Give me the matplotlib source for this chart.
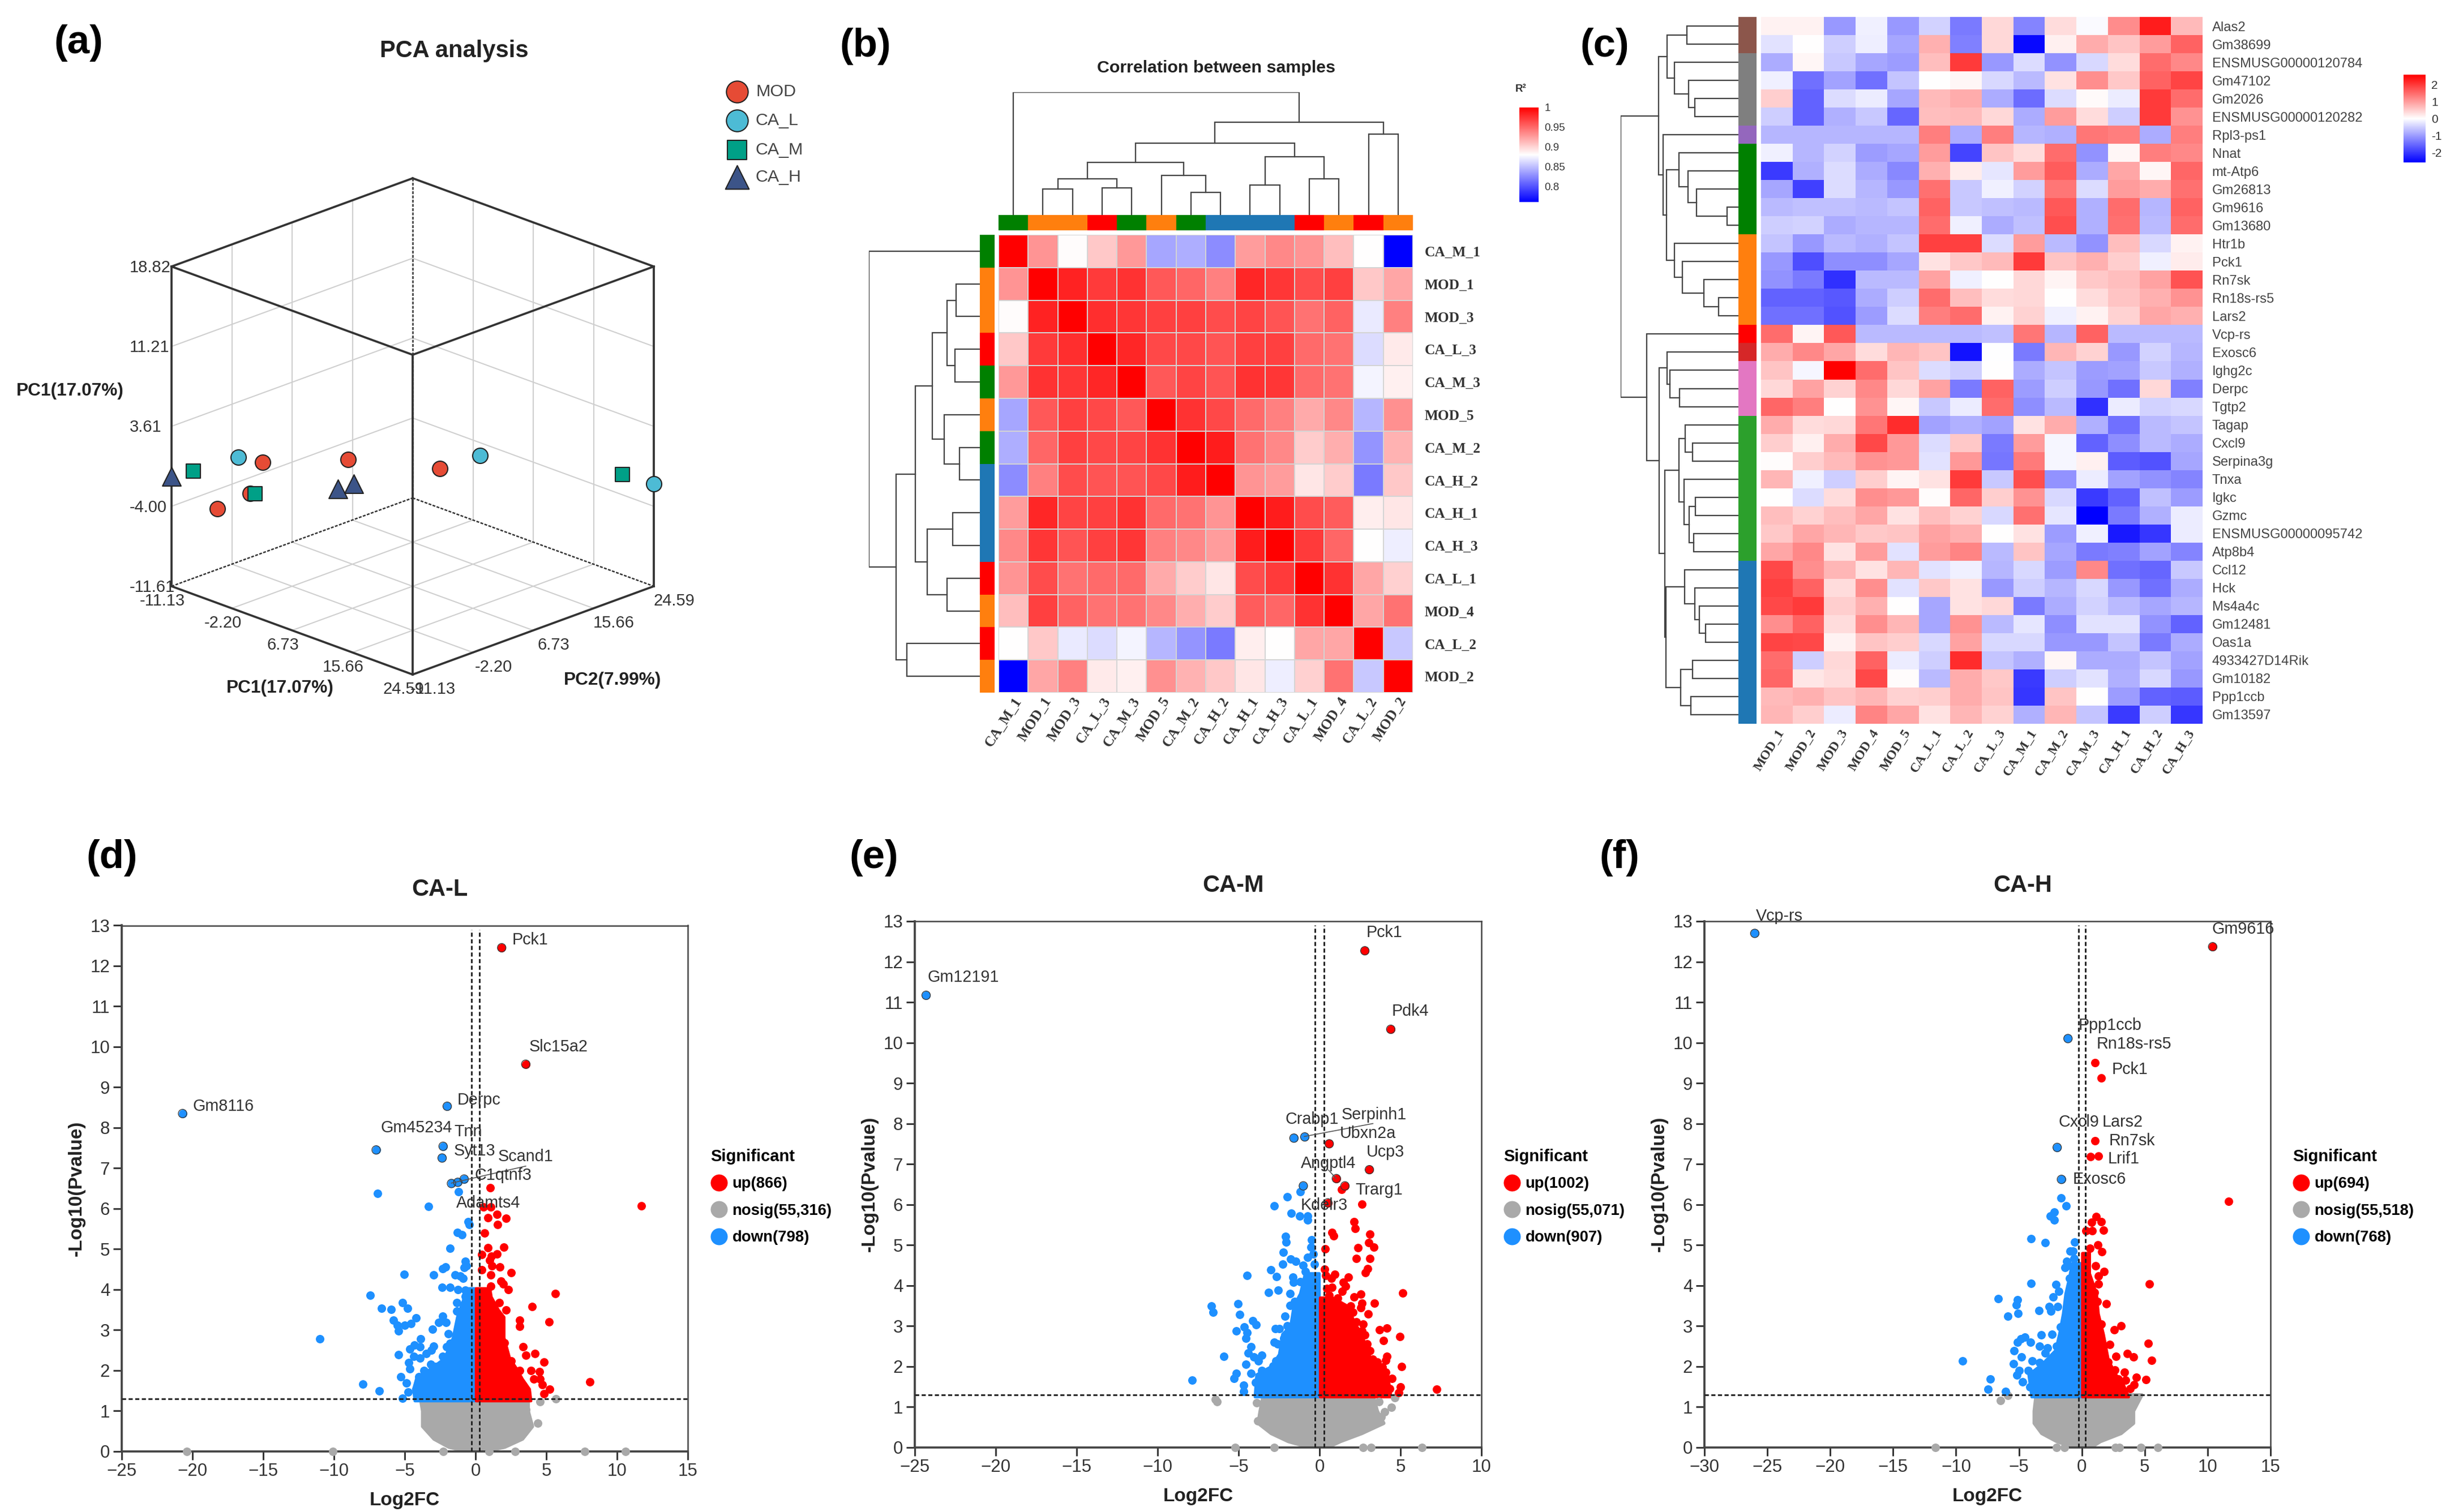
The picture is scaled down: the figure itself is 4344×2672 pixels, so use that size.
import numpy as np
import matplotlib
matplotlib.use('Agg')
import matplotlib.pyplot as plt
from matplotlib.colors import LinearSegmentedColormap, Normalize
from matplotlib.cm import ScalarMappable
from matplotlib.lines import Line2D

plt.rcParams['font.family'] = ['Liberation Sans', 'DejaVu Sans']

W, H = 4344, 2672
DARK = '#333333'
SERIF = 'Liberation Serif'

# ---------- panel a: PCA
pca_ticks = [-11.13, -2.20, 6.73, 15.66, 24.59]
pc3_ticks = [-11.61, -4.00, 3.61, 11.21, 18.82]
pca_groups = ['MOD', 'CA_L', 'CA_M', 'CA_H']
pca_colors = ['#e64b35', '#4dbbd5', '#00a087', '#3c5488']
pca_markers = ['o', 'o', 's', '^']
mod_pc1 = [-8.70, -2.99, 5.66, -5.31, -3.38]
mod_pc2 = [-0.02, 6.87, 11.84, -10.13, -7.24]
mod_pc3 = [-1.87, -1.87, -1.87, -3.09, -1.87]
cal_pc1 = [-10.34, 6.02, 24.59]
cal_pc2 = [-2.06, 17.45, 24.59]
cal_pc3 = [-1.26, -1.87, -1.87]
cam_pc1 = [-10.88, -3.02, 20.30]
cam_pc2 = [-8.17, -6.88, 24.16]
cam_pc3 = [-1.26, -1.87, -1.87]
cah_pc1 = [-11.13, 2.16, 2.37]
cah_pc2 = [-11.13, 0.23, 2.37]
cah_pc3 = [-1.17, -1.87, -1.87]

# ---------- panel b: correlation heatmap (upper triangle, row by row)
corr_samples = ['CA_M_1', 'MOD_1', 'MOD_3', 'CA_L_3', 'CA_M_3', 'MOD_5', 'CA_M_2',
                'CA_H_2', 'CA_H_1', 'CA_H_3', 'CA_L_1', 'MOD_4', 'CA_L_2', 'MOD_2']
corr_upper = [
    [1.00, .930, .881, .906, .928, .838, .842, .826, .926, .936, .930, .910, .880, .760],
    [1.00, .984, .972, .976, .958, .952, .940, .982, .974, .964, .970, .906, .922],
    [1.00, .978, .974, .970, .970, .964, .968, .960, .946, .954, .870, .940],
    [1.00, .982, .966, .966, .960, .970, .970, .950, .946, .864, .890],
    [1.00, .958, .968, .960, .976, .974, .950, .946, .875, .887],
    [1.00, .976, .966, .950, .940, .920, .936, .846, .932],
    [1.00, .986, .946, .936, .904, .918, .830, .916],
    [1.00, .930, .926, .892, .904, .818, .906],
    [1.00, .986, .964, .956, .888, .892],
    [1.00, .972, .952, .880, .872],
    [1.00, .976, .922, .902],
    [1.00, .922, .946],
    [1.00, .854],
    [1.00],
]
corr_tree = (1.0, 0, (.757, (.584, (.428, (.296, (.214, 1, 2), (.222, 3, 4)),
                                    (.321, 5, (.185, 6, 7))),
                             (.473, (.243, 8, 9), (.296, 10, 11))),
                      (.658, 12, 13)))
group_colors = {'MOD': '#ff7f0e', 'CA_L': '#ff0000', 'CA_M': '#008000', 'CA_H': '#1f77b4'}

# ---------- panel c: gene heatmap
gene_names = ['Alas2', 'Gm38699', 'ENSMUSG00000120784', 'Gm47102', 'Gm2026', 'ENSMUSG00000120282',
              'Rpl3-ps1', 'Nnat', 'mt-Atp6', 'Gm26813', 'Gm9616', 'Gm13680', 'Htr1b', 'Pck1', 'Rn7sk',
              'Rn18s-rs5', 'Lars2', 'Vcp-rs', 'Exosc6', 'Ighg2c', 'Derpc', 'Tgtp2', 'Tagap', 'Cxcl9',
              'Serpina3g', 'Tnxa', 'Igkc', 'Gzmc', 'ENSMUSG00000095742', 'Atp8b4', 'Ccl12', 'Hck',
              'Ms4a4c', 'Gm12481', 'Oas1a', '4933427D14Rik', 'Gm10182', 'Ppp1ccb', 'Gm13597']
gene_samples = ['MOD_1', 'MOD_2', 'MOD_3', 'MOD_4', 'MOD_5', 'CA_L_1', 'CA_L_2', 'CA_L_3',
                'CA_M_1', 'CA_M_2', 'CA_M_3', 'CA_H_1', 'CA_H_2', 'CA_H_3']
gene_z = [
    [.13, .13, -1.04, -.15, -1.05, -.45, -1.35, .4, -1.25, .35, -.05, 1.17, 2.3, .7],
    [-.3, 0, -.5, -.17, -.9, .8, -1.3, .4, -2.5, .15, .85, .6, 1.0, 1.6],
    [-.85, .1, -.55, -.9, -1.0, .65, 2.0, -1.05, -.35, -1.1, -.4, .35, 1.5, 1.2],
    [-.15, -1.45, -.95, -1.45, -.6, 0, .1, -.4, -.7, .3, 1.15, .55, 1.6, 1.9],
    [.5, -1.6, -.35, -.2, -.9, .7, .85, -.85, -1.5, -.35, .05, -.2, 2.0, 1.5],
    [-.5, -1.6, -.8, -.55, -1.55, .65, .7, .4, -.85, 1.0, .35, -.5, 2.0, 1.1],
    [-.75, -.75, -.75, -.75, -.75, 1.3, -.85, 1.3, -.75, -.8, 1.4, 1.3, -.85, 1.3],
    [-.15, -.75, -.45, -1.0, -.9, 1.0, -1.9, .6, .35, 1.5, -1.1, .1, 1.3, 1.2],
    [-2.0, -.8, -.35, -.85, -1.2, .8, .2, -.25, 1.0, 1.65, -.85, .9, .1, 1.55],
    [-.9, -1.95, -.35, -.75, -1.05, 1.45, -.55, -.15, -.45, 1.4, -.35, 1.0, .85, 1.45],
    [-.7, -.65, -.65, -.7, -.6, 1.6, -.55, -.65, -.7, 1.7, -.8, 1.5, -.75, 1.6],
    [-.5, -.45, -.85, -.75, -.75, 1.5, -.15, -.85, -.65, 1.8, -.8, 1.45, -.7, 1.5],
    [-.6, -1.05, -.7, -.8, -.6, 1.95, 1.95, -.35, 1.0, -.7, -1.1, .65, -.4, .13],
    [-1.05, -1.8, -1.15, -1.15, -.9, .3, .55, .7, 2.0, .6, .8, .5, -.15, .2],
    [-1.1, -1.35, -2.1, -.7, -.7, .95, -.15, 0, .4, .12, .55, .65, .95, 1.75],
    [-1.6, -1.6, -1.7, -.85, -.5, 1.5, .65, .35, .4, 0, .35, .6, .8, 1.1],
    [-1.45, -1.45, -1.75, -1.0, -.35, 1.3, 1.5, .13, .45, -.15, .13, .45, .9, .8],
    [1.5, .12, 1.7, -.7, -.7, -.7, -.7, -.65, 1.4, -.75, 1.6, -.7, -.7, -.7],
    [.85, 1.2, .9, .35, .75, .6, -2.4, -.02, -1.35, .75, .45, -1.05, -.45, -.75],
    [.6, -.1, 2.6, 1.5, .6, -.35, -.5, 0, -.85, -.6, -1.0, -.95, -.55, -.8],
    [.4, .95, .45, 1.2, .4, .95, -1.35, 1.6, -1.0, -.5, -1.05, -1.45, .4, -1.3],
    [1.55, 1.3, 0, 1.1, .1, -.55, -.2, 1.5, -1.15, -.7, -2.1, -.2, -.45, -.4],
    [.85, .35, .4, 1.4, 2.15, -.95, -.8, -.95, .3, .85, -.8, -1.45, -.7, -.6],
    [.5, .15, .85, 1.85, 1.05, -.35, .55, -1.35, 1.0, -.1, -1.6, -1.15, -.7, -.85],
    [.03, .5, .7, 1.1, 1.05, -.3, 1.05, -1.4, 1.35, -.1, .15, -1.65, -1.75, -.9],
    [.75, -.15, -.5, .5, .12, .3, 2.0, -.55, 1.8, -1.1, -.2, -.95, -1.1, -1.25],
    [0, -.35, .35, 1.15, 1.05, .03, 1.55, .5, 1.1, -.4, -2.0, -1.6, -.65, -1.0],
    [.65, .45, .65, .9, .3, .65, .45, -.4, 1.45, -.25, -2.6, -1.35, -.8, -.2],
    [.55, .9, .75, .55, .6, .95, .8, 0, .3, -1.0, -.15, -2.35, -2.05, -.2],
    [.9, 1.2, .3, 1.0, -.3, 1.0, 1.25, -.7, .6, -.9, -1.35, -1.3, -.95, -1.25],
    [1.85, 1.15, .75, .3, .75, -.3, -.15, -.75, -.4, -1.0, 1.2, -1.45, -1.55, -.55],
    [1.95, 1.6, .35, 1.15, -.3, .55, .3, -1.05, -.5, -.75, -.4, -1.05, -1.45, -.85],
    [1.85, 2.0, .5, .8, 0, -.9, .3, .4, -1.35, -.85, -.45, -.7, -.9, -.75],
    [1.15, 1.6, .35, 1.15, .75, -.9, 1.1, -.7, -.25, -1.15, -.3, -.3, -1.1, -1.6],
    [1.9, 1.85, .13, .6, .5, -.4, .95, -.4, -.4, -1.05, -1.05, -.6, -1.35, -.85],
    [1.5, -.5, .4, 1.6, -.2, -.5, 2.15, -.6, -.8, .1, -.85, -.85, -.6, -.95],
    [1.55, .25, .35, 1.85, .03, -.7, .85, .55, -2.0, -.5, -.3, -.8, -.4, -1.05],
    [.7, .8, .6, .75, .45, .5, .85, .6, -2.05, .6, 0, -1.0, -1.6, -1.65],
    [.75, .5, -.2, 1.25, .9, .3, .75, .45, -.8, .75, -.6, -2.0, -.5, -2.05],
]
gene_groups = ['#8c564b'] * 2 + ['#7f7f7f'] * 4 + ['#9467bd'] + ['#008000'] * 5 + ['#ff7f0e'] * 5 \
    + ['#ff0000'] + ['#d62728'] + ['#e377c2'] * 3 + ['#2ca02c'] * 8 + ['#1f77b4'] * 9
gene_tree = (1.0,
             (.678,
              (.607, (.436, 0, 1), (.545, 2, (.422, 3, (.37, 4, 5)))),
              (.64, 6, (.611,
                        (.507, 7, (.427, 8, (.355, 9, (.095, 10, 11)))),
                        (.545, 12, (.474, 13, (.294, 14, (.166, 15, 16))))))),
             (.777, 17, (.673,
                         (.607, 18, (.583, 19, (.498, 20, 21))),
                         (.626,
                          (.507, (.45, 22, (.389, 23, 24)),
                           (.46, 25, (.417, (.365, 26, 27), (.38, 28, 29)))),
                          (.616,
                           (.455, 30, (.37, 31, (.332, 32, (.28, 33, 34)))),
                           (.488, (.389, 35, 36), (.403, 37, 38)))))))

# ---------- panels d-f: volcanoes
d_down = [(-20.7, 8.35), (-2.0, 8.53), (-7.02, 7.45), (-2.29, 7.54), (-2.36, 7.25), (-1.70, 6.62), (-1.25, 6.65),
          (-.80, 6.73), (-6.93, 6.37), (-1.20, 6.41), (-3.34, 6.05), (-.54, 5.67), (-.45, 5.61), (-1.30, 5.41),
          (-.98, 5.35), (-1.82, 5.02), (-.71, 4.70), (-.63, 4.59), (-.80, 4.54), (-2.32, 4.51), (-2.14, 4.56),
          (-5.04, 4.38), (-2.98, 4.36), (-1.43, 4.36), (-.89, 4.28), (-1.07, 4.33), (-2.36, 4.05), (-1.79, 4.05),
          (-1.25, 4.00), (-.71, 3.98), (-7.46, 3.86), (-5.18, 3.67), (-4.82, 3.54), (-6.66, 3.54), (-5.95, 3.50),
          (-1.34, 3.68), (-.71, 3.83), (-1.34, 3.47), (-4.20, 3.30), (-5.80, 3.24), (-5.54, 3.11), (-5.45, 2.97),
          (-5.00, 3.12), (-4.55, 3.15), (-2.32, 3.34), (-2.59, 3.19), (-2.09, 3.19), (-3.04, 3.01), (-1.93, 2.90),
          (-11.02, 2.78), (-3.88, 2.78), (-4.34, 2.63), (-4.64, 2.53), (-3.93, 2.58), (-2.95, 2.60), (-3.13, 2.50),
          (-3.48, 2.41), (-1.79, 2.66), (-2.05, 2.58), (-5.45, 2.39), (-4.38, 2.35), (-3.93, 2.31), (-2.32, 2.35),
          (-4.73, 2.19), (-4.64, 2.04), (-3.16, 2.15), (-2.86, 2.10), (-3.66, 1.99), (-5.27, 1.84), (-4.88, 1.69),
          (-7.95, 1.66), (-6.79, 1.49), (-4.77, 1.46), (-5.18, 1.31), (-4.02, 1.84), (-4.20, 1.54)]
d_up = [(1.85, 12.45), (3.55, 9.57), (11.7, 6.07), (1.04, 6.51), (.54, 6.04), (1.07, 6.04), (1.52, 5.86), (.89, 5.78),
        (2.14, 5.76), (1.55, 5.60), (.62, 5.40), (.89, 5.03), (2.0, 5.04), (1.52, 4.88), (.45, 4.87), (1.12, 4.82),
        (.98, 4.72), (1.70, 4.56), (1.16, 4.59), (.45, 4.48), (2.5, 4.41), (1.07, 4.36), (1.79, 4.21), (1.96, 4.14),
        (2.32, 3.99), (5.62, 3.90), (1.07, 4.08), (1.66, 3.68), (3.98, 3.57), (2.14, 3.49), (3.13, 3.24), (5.18, 3.20),
        (3.13, 3.09), (1.79, 3.01), (1.70, 2.82), (2.05, 2.68), (3.36, 2.58), (1.88, 2.50), (4.20, 2.41), (3.57, 2.38),
        (2.5, 2.23), (4.82, 2.21), (3.93, 1.99), (3.13, 1.99), (4.5, 1.97), (4.55, 1.79), (4.11, 1.79), (8.07, 1.71),
        (4.73, 1.64), (5.23, 1.54), (4.82, 1.42), (3.48, 1.43), (2.5, 1.99)]
d_nosig = [(4.55, 1.22), (5.66, 1.29), (4.41, .70), (3.57, 1.03), (-20.4, 0), (-10.1, 0), (-2.3, 0), (.95, 0), (2.8, 0),
           (7.7, 0), (10.6, 0)]
d_marked = [(1.85, 12.45), (3.55, 9.57), (-20.7, 8.35), (-2.0, 8.53), (-7.02, 7.45), (-2.29, 7.54), (-2.36, 7.25),
            (-1.70, 6.62), (-1.25, 6.65), (-.80, 6.73)]
# extent of the solid clouds at several heights
d_gray_y = [0, .11, .31, .62, 1.0, 1.3]
d_gray_l = [-.6, -1.9, -2.95, -3.75, -3.75, -3.9]
d_gray_r = [.6, 2.05, 3.3, 4.0, 3.7, 3.7]
d_blue_y = [1.25, 1.54, 1.79, 2.04, 2.30, 2.81, 3.32, 3.82, 4.03]
d_blue_l = [-4.3, -4.4, -4.2, -3.2, -2.2, -1.6, -1.3, -.8, -.5]
d_red_y = [1.25, 1.54, 1.79, 2.04, 2.30, 2.81, 3.32, 3.50, 3.82, 4.03]
d_red_r = [3.9, 3.8, 3.3, 2.9, 2.4, 2.0, 2.0, 1.6, 1.1, 1.0]
d_labels = ['Pck1', 'Slc15a2', 'Gm8116', 'Derpc', 'Gm45234', 'Tnn', 'Syt13', 'Scand1', 'C1qtnf3', 'Adamts4']
d_label_x = [2.6, 3.8, -20.0, -1.3, -6.7, -1.5, -1.55, 1.6, -.07, -1.37]
d_label_y = [12.65, 10.0, 8.53, 8.68, 8.0, 7.9, 7.42, 7.28, 6.82, 6.14]

e_down = [(-24.3, 11.17), (-1.58, 7.64), (-.91, 7.67), (-1.0, 6.46), (-1.20, 6.31), (-2.01, 6.19), (-2.81, 5.97),
          (-1.74, 5.79), (-1.23, 5.71), (-.74, 5.72), (-.74, 5.61), (-2.10, 5.21), (-2.05, 5.07), (-.50, 5.12),
          (-.54, 4.95), (-2.24, 4.82), (-.40, 4.78), (-1.77, 4.65), (-1.47, 4.60), (-.74, 4.70), (-2.28, 4.53),
          (-.31, 4.53), (-2.99, 4.39), (-1.0, 4.50), (-.87, 4.35), (-4.46, 4.24), (-2.65, 4.22), (-1.63, 4.20),
          (-1.61, 4.08), (-1.20, 4.09), (-.47, 4.11), (-.87, 4.10), (-3.15, 3.83), (-2.54, 3.88), (-1.81, 3.80),
          (-.80, 3.85), (-6.67, 3.49), (-6.56, 3.34), (-5.02, 3.54), (-4.93, 3.28), (-2.14, 3.24), (-1.81, 3.50),
          (-1.54, 3.60), (-4.11, 3.13), (-3.91, 3.03), (-4.65, 2.97), (-5.13, 2.88), (-4.48, 2.83), (-4.55, 2.69),
          (-2.74, 2.93), (-2.48, 2.93), (-1.98, 3.0), (-2.21, 2.70), (-2.78, 2.60), (-2.57, 2.55), (-4.24, 2.49),
          (-4.39, 2.33), (-5.92, 2.24), (-3.55, 2.28), (-4.06, 2.23), (-3.79, 2.13), (-4.55, 2.05), (-2.68, 2.13),
          (-2.85, 2.01), (-4.22, 1.83), (-5.15, 1.82), (-5.29, 1.70), (-7.86, 1.66), (-4.69, 1.53), (-4.69, 1.38),
          (-3.55, 1.90), (-3.95, 1.60)]
e_up = [(2.8, 12.27), (4.4, 10.33), (.60, 7.50), (3.08, 6.86), (1.04, 6.64), (1.57, 6.46), (1.38, 6.37), (.51, 6.04),
        (2.61, 6.01), (2.12, 5.57), (2.21, 5.40), (.78, 5.31), (.87, 5.22), (3.11, 5.27), (3.05, 5.06), (3.35, 4.95),
        (2.37, 4.93), (.36, 4.90), (2.28, 4.66), (3.12, 4.66), (2.97, 4.41), (2.84, 4.32), (.31, 4.40), (.40, 4.25),
        (.94, 4.28), (1.78, 4.21), (.74, 4.18), (1.47, 4.08), (1.61, 3.98), (.78, 3.95), (.47, 3.93), (5.15, 3.81),
        (1.41, 3.85), (2.54, 3.79), (2.14, 3.71), (.60, 3.75), (1.11, 3.68), (3.39, 3.56), (2.61, 3.56), (2.54, 3.45),
        (1.91, 3.49), (3.01, 3.30), (2.07, 3.33), (2.68, 3.05), (2.28, 3.10), (4.15, 2.94), (3.71, 2.90), (2.61, 2.88),
        (4.98, 2.74), (2.81, 2.78), (3.95, 2.64), (2.95, 2.55), (3.12, 2.38), (4.15, 2.25), (4.08, 2.15), (3.28, 2.18),
        (3.57, 2.10), (5.06, 1.99), (3.88, 1.98), (4.08, 1.85), (4.46, 1.70), (7.23, 1.44), (4.99, 1.49), (4.89, 1.35),
        (4.35, 1.45)]
e_nosig = [(-6.45, 1.18), (-6.33, 1.13), (-3.88, 1.10), (3.68, 1.13), (4.66, 1.23), (4.44, .99), (4.02, .88), (3.82, .75),
           (-3.82, .65), (-5.22, 0), (-2.81, 0), (2.68, 0), (3.17, 0), (6.33, 0)]
e_marked = [(2.8, 12.27), (4.4, 10.33), (-24.3, 11.17), (-1.58, 7.64), (-.91, 7.67), (.60, 7.50), (3.08, 6.86),
            (1.04, 6.64), (1.57, 6.46), (-1.0, 6.46), (.51, 6.04)]
e_gray_y = [0, .15, .35, .6, .9, 1.3]
e_gray_l = [-.6, -1.94, -3.0, -3.8, -3.68, -3.48]
e_gray_r = [.47, 1.27, 2.6, 3.95, 3.55, 3.28]
e_blue_y = [1.25, 1.8, 2.0, 2.3, 2.8, 3.0, 3.5, 3.8, 4.3]
e_blue_l = [-4.0, -3.9, -3.0, -2.5, -2.3, -1.8, -1.6, -1.2, -.9]
e_red_y = [1.25, 1.8, 2.0, 2.3, 2.8, 3.05, 3.5, 3.7]
e_red_r = [4.4, 4.2, 3.6, 3.0, 2.6, 2.2, 1.7, .8]
e_labels = ['Pck1', 'Pdk4', 'Gm12191', 'Crabp1', 'Serpinh1', 'Ubxn2a', 'Ucp3', 'Angptl4', 'Trarg1', 'Kdelr3']
e_label_x = [2.9, 4.47, -24.2, -2.1, 1.35, 1.25, 2.9, -1.15, 2.2, -1.15]
e_label_y = [12.72, 10.77, 11.62, 8.1, 8.22, 7.75, 7.3, 7.02, 6.36, 5.98]

f_down = [(-26.0, 12.7), (-1.1, 10.1), (-1.96, 7.41), (-1.62, 6.62), (-1.66, 6.16), (-1.24, 5.97), (-2.17, 5.81),
          (-2.52, 5.72), (-2.17, 5.61), (-4.03, 5.16), (-2.92, 5.05), (-.57, 5.07), (-.94, 4.85), (-.72, 4.85),
          (-.61, 4.66), (-1.2, 4.60), (-1.35, 4.44), (-.79, 4.47), (-4.03, 4.05), (-2.07, 4.02), (-.97, 4.18),
          (-1.85, 3.85), (-2.29, 3.71), (-6.64, 3.67), (-5.11, 3.64), (-5.22, 3.52), (-3.42, 3.38), (-2.59, 3.48),
          (-2.47, 3.36), (-1.92, 3.48), (-5.07, 3.31), (-5.86, 3.24), (-1.69, 2.98), (-3.22, 2.78), (-2.37, 2.79),
          (-4.54, 2.72), (-4.84, 2.68), (-5.11, 2.59), (-4.09, 2.59), (-3.34, 2.50), (-2.74, 2.45), (-5.37, 2.39),
          (-2.89, 2.33), (-1.99, 2.50), (-4.78, 2.23), (-9.46, 2.13), (-5.41, 2.06), (-3.94, 2.14), (-3.34, 2.09),
          (-4.99, 1.90), (-5.14, 1.78), (-4.72, 1.61), (-7.29, 1.69), (-7.44, 1.44), (-6.05, 1.38), (-4.12, 1.49),
          (-4.24, 1.90)]
f_up = [(10.4, 12.37), (1.05, 9.5), (1.55, 9.13), (11.65, 6.08), (1.03, 7.58), (.67, 7.18), (1.33, 7.2), (1.15, 5.70),
        (.78, 5.56), (1.53, 5.57), (.33, 5.35), (.82, 5.35), (1.71, 5.37), (1.26, 5.0), (1.60, 4.83), (.63, 4.91),
        (1.08, 4.48), (1.75, 4.34), (1.33, 4.23), (5.38, 4.04), (1.30, 4.03), (1.0, 3.82), (1.93, 3.54), (1.23, 3.60),
        (3.10, 3.0), (2.58, 2.91), (1.53, 3.05), (5.28, 2.57), (2.2, 2.54), (3.60, 2.32), (2.73, 2.25), (4.12, 2.23),
        (5.53, 2.15), (2.08, 2.11), (2.61, 1.91), (3.40, 1.85), (4.33, 1.73), (5.10, 1.67), (3.48, 1.66), (4.15, 1.55),
        (3.85, 1.45), (2.88, 1.68)]
f_nosig = [(-6.45, 1.16), (-5.9, 1.28), (4.3, 1.2), (-11.64, 0), (-2.0, 0), (-1.4, 0), (2.65, 0), (3.0, 0), (4.68, 0),
           (6.03, 0)]
f_marked = [(-26.0, 12.7), (10.4, 12.37), (-1.1, 10.1), (-1.96, 7.41), (-1.62, 6.62)]
f_gray_y = [0, .15, .35, .6, .9, 1.3]
f_gray_l = [-.65, -2.0, -3.2, -3.8, -3.8, -3.65]
f_gray_r = [.7, 1.45, 3.1, 4.08, 4.08, 4.75]
f_blue_y = [1.25, 1.8, 2.05, 2.4, 2.8, 3.3, 3.8, 4.2, 4.55]
f_blue_l = [-4.0, -4.24, -3.2, -2.1, -1.8, -1.5, -1.3, -1.0, -.8]
f_red_y = [1.25, 1.55, 1.8, 2.15, 2.8, 3.3, 3.8, 4.3, 4.8]
f_red_r = [3.7, 3.3, 2.7, 2.1, 1.7, 1.3, 1.15, .6, .6]
f_labels = ['Vcp-rs', 'Gm9616', 'Ppp1ccb', 'Rn18s-rs5', 'Pck1', 'Cxcl9', 'Lars2', 'Rn7sk', 'Lrif1', 'Exosc6']
f_label_x = [-25.9, 10.36, -.27, 1.15, 2.4, -1.86, 1.6, 2.17, 2.08, -.71]
f_label_y = [13.13, 12.8, 10.43, 9.96, 9.33, 8.04, 8.04, 7.58, 7.13, 6.63]

fig = plt.figure(figsize=(W / 300, H / 300), dpi=300, facecolor='white')


def px_axes(left, top, right, bottom):
    return fig.add_axes([left / W, 1 - bottom / H, (right - left) / W, (bottom - top) / H])


canvas = fig.add_axes([0, 0, 1, 1])
canvas.set_xlim(0, W)
canvas.set_ylim(H, 0)
canvas.axis('off')

# panel letters and titles
for letter, lx, ly in zip(['(a)', '(b)', '(c)', '(d)', '(e)', '(f)'],
                          [139, 1529, 2835, 198, 1544, 2861], [76, 82, 82, 1516, 1516, 1516]):
    canvas.text(lx, ly, letter, fontsize=17, fontweight='bold', ha='center', va='center')
canvas.text(802, 90, 'PCA analysis', fontsize=10, fontweight='bold', ha='center', va='center', color='#222222')
canvas.text(2148, 120, 'Correlation between samples', fontsize=7.3, fontweight='bold', ha='center', va='center',
            color='#222222')


# ---------- a
def project(p1, p2, p3):
    a = (np.asarray(p1, float) - pca_ticks[0]) / (pca_ticks[-1] - pca_ticks[0])
    b = (np.asarray(p2, float) - pca_ticks[0]) / (pca_ticks[-1] - pca_ticks[0])
    c = (np.asarray(p3, float) - pc3_ticks[0]) / (pc3_ticks[-1] - pc3_ticks[0])
    return 303 + 426 * (a + b), 1036 + 156 * (a - b) - 565 * c


def cube_line(p, q, **kw):
    x0, y0 = project(*p)
    x1, y1 = project(*q)
    canvas.plot([x0, x1], [y0, y1], **kw)


lo, hi = pca_ticks[0], pca_ticks[-1]
zlo, zhi = pc3_ticks[0], pc3_ticks[-1]
grid_kw = dict(color='#cfcfcf', lw=0.5, zorder=1)
for t in pca_ticks[1:-1]:
    cube_line((lo, t, zlo), (lo, t, zhi), **grid_kw)
    cube_line((t, hi, zlo), (t, hi, zhi), **grid_kw)
    cube_line((lo, t, zlo), (hi, t, zlo), **grid_kw)
    cube_line((t, lo, zlo), (t, hi, zlo), **grid_kw)
for t in pc3_ticks[1:-1]:
    cube_line((lo, lo, t), (lo, hi, t), **grid_kw)
    cube_line((lo, hi, t), (hi, hi, t), **grid_kw)

edge_kw = dict(color='#333333', lw=0.9, zorder=2)
for p, q in [((lo, lo, zhi), (lo, hi, zhi)), ((lo, hi, zhi), (hi, hi, zhi)), ((hi, hi, zhi), (hi, lo, zhi)),
             ((hi, lo, zhi), (lo, lo, zhi)), ((lo, lo, zlo), (lo, lo, zhi)), ((hi, lo, zlo), (hi, lo, zhi)),
             ((hi, hi, zlo), (hi, hi, zhi)), ((lo, lo, zlo), (hi, lo, zlo)), ((hi, lo, zlo), (hi, hi, zlo))]:
    cube_line(p, q, **edge_kw)
dash_kw = dict(color='#333333', lw=0.6, ls=(0, (2, 1)), zorder=2)
for p, q in [((lo, hi, zhi), (lo, hi, zlo)), ((lo, lo, zlo), (lo, hi, zlo)), ((lo, hi, zlo), (hi, hi, zlo))]:
    cube_line(p, q, **dash_kw)

for t in pca_ticks:
    x, y = project(t, lo, zlo)
    canvas.text(x - 16, y + 26, f'{t:.2f}', fontsize=7, ha='center', va='center', color=DARK)
    x, y = project(hi, t, zlo)
    canvas.text(x + 36, y + 26, f'{t:.2f}', fontsize=7, ha='center', va='center', color=DARK)
for t in pc3_ticks:
    x, y = project(lo, lo, t)
    canvas.text(229, y + 2, f'{t:.2f}', fontsize=7, ha='left', va='center', color=DARK)
canvas.text(124, 691, 'PC1(17.07%)', fontsize=7.6, fontweight='bold', ha='center', va='center', color='#222222')
canvas.text(495, 1216, 'PC1(17.07%)', fontsize=7.6, fontweight='bold', ha='center', va='center', color='#222222')
canvas.text(1082, 1202, 'PC2(7.99%)', fontsize=7.6, fontweight='bold', ha='center', va='center', color='#222222')

pca_series = [(mod_pc1, mod_pc2, mod_pc3), (cal_pc1, cal_pc2, cal_pc3), (cam_pc1, cam_pc2, cam_pc3),
              (cah_pc1, cah_pc2, cah_pc3)]
pca_sizes = [42, 42, 36, 62]
for (p1, p2, p3), col, mk, sz in zip(pca_series, pca_colors, pca_markers, pca_sizes):
    sx, sy = project(p1, p2, p3)
    canvas.scatter(sx, sy, s=sz, c=col, marker=mk, edgecolors='#222222', linewidths=0.5, zorder=5)
for name, col, mk, ly, sz in zip(pca_groups, pca_colors, pca_markers, [162, 213, 265, 313], [85, 85, 70, 100]):
    canvas.scatter([1302], [ly], s=sz, c=col, marker=mk, edgecolors='#222222', linewidths=0.5, zorder=5)
    canvas.text(1335, ly, name, fontsize=7.3, ha='left', va='center', color='#444444')


# ---------- dendrogram helper
def draw_tree(ax, node, horizontal):
    if not isinstance(node, tuple):
        return node + 0.5, 0.0
    h, left, right = node
    p1, h1 = draw_tree(ax, left, horizontal)
    p2, h2 = draw_tree(ax, right, horizontal)
    if horizontal:
        ax.plot([h1, h, h, h2], [p1, p1, p2, p2], color='#444444', lw=0.55, solid_joinstyle='miter')
    else:
        ax.plot([p1, p1, p2, p2], [h1, h, h, h2], color='#444444', lw=0.55, solid_joinstyle='miter')
    return (p1 + p2) / 2, h


# ---------- b
n_corr = len(corr_samples)
corr = np.ones((n_corr, n_corr))
for i, row in enumerate(corr_upper):
    for j, v in enumerate(row):
        corr[i, i + j] = v
        corr[i + j, i] = v
corr_colors = [group_colors[s.rsplit('_', 1)[0]] for s in corr_samples]
bwr = LinearSegmentedColormap.from_list('bwr2', ['#0000ff', '#ffffff', '#ff0000'])
corr_norm = Normalize(0.76, 1.0)

ax = px_axes(1764, 415, 2496, 1224)
ax.pcolormesh(np.arange(n_corr + 1), np.arange(n_corr + 1), corr, cmap=bwr, norm=corr_norm,
              edgecolors='#d4d4d4', linewidth=0.4)
ax.set_xlim(0, n_corr)
ax.set_ylim(n_corr, 0)
ax.set_xticks(np.arange(n_corr) + 0.5)
ax.set_yticks(np.arange(n_corr) + 0.5)
ax.set_xticklabels(corr_samples, rotation=57, ha='right', va='top', rotation_mode='anchor',
                   family=SERIF, fontweight='bold', fontsize=6.1, color=DARK)
ax.yaxis.tick_right()
ax.set_yticklabels(corr_samples, family=SERIF, fontweight='bold', fontsize=6.1, color=DARK)
ax.tick_params(length=0, pad=5)
ax.tick_params(axis='x', pad=1)
for s in ax.spines.values():
    s.set_visible(False)

ax = px_axes(1764, 380, 2496, 407)
ax.bar(np.arange(n_corr) + 0.5, 1, width=1, color=corr_colors)
ax.set_xlim(0, n_corr)
ax.set_ylim(0, 1)
ax.axis('off')

ax = px_axes(1731, 415, 1757, 1224)
ax.barh(np.arange(n_corr) + 0.5, 1, height=1, color=corr_colors)
ax.set_ylim(n_corr, 0)
ax.set_xlim(0, 1)
ax.axis('off')

ax = px_axes(1764, 163, 2496, 380)
draw_tree(ax, corr_tree, False)
ax.set_xlim(0, n_corr)
ax.set_ylim(0, 1)
ax.axis('off')

ax = px_axes(1535, 415, 1731, 1224)
draw_tree(ax, corr_tree, True)
ax.set_xlim(1, 0)
ax.set_ylim(n_corr, 0)
ax.axis('off')

cax = px_axes(2684, 190, 2718, 357)
cb = fig.colorbar(ScalarMappable(corr_norm, bwr), cax=cax, ticks=[0.8, 0.85, 0.9, 0.95, 1])
cb.ax.set_yticklabels(['0.8', '0.85', '0.9', '0.95', '1'], fontsize=4.5, color=DARK)
cb.ax.tick_params(length=1.5, width=0.3, pad=1, color='white')
cb.outline.set_visible(False)
canvas.text(2687, 158, 'R²', fontsize=4.5, fontweight='bold', ha='center', va='center', color=DARK)

# ---------- c
gene_arr = np.array(gene_z)
n_gene, n_col = gene_arr.shape
gene_norm = Normalize(-2.6, 2.6)

ax = px_axes(3111, 30, 3891, 1279)
ax.pcolormesh(np.arange(n_col + 1), np.arange(n_gene + 1), gene_arr, cmap=bwr, norm=gene_norm)
ax.set_xlim(0, n_col)
ax.set_ylim(n_gene, 0)
ax.set_xticks(np.arange(n_col) + 0.5)
ax.set_yticks(np.arange(n_gene) + 0.5)
ax.set_xticklabels(gene_samples, rotation=58, ha='right', va='top', rotation_mode='anchor',
                   family=SERIF, fontweight='bold', fontsize=5.7, color=DARK)
ax.yaxis.tick_right()
ax.set_yticklabels(gene_names, fontsize=5.7, color='#444444')
ax.tick_params(length=0, pad=4)
ax.tick_params(axis='x', pad=1.5)
for s in ax.spines.values():
    s.set_visible(False)

ax = px_axes(3071, 30, 3103, 1279)
ax.barh(np.arange(n_gene) + 0.5, 1, height=1, color=gene_groups)
ax.set_ylim(n_gene, 0)
ax.set_xlim(0, 1)
ax.axis('off')

ax = px_axes(2863, 30, 3071, 1279)
draw_tree(ax, gene_tree, True)
ax.set_xlim(1, 0)
ax.set_ylim(n_gene, 0)
ax.axis('off')

cax = px_axes(4246, 132, 4285, 287)
cb = fig.colorbar(ScalarMappable(gene_norm, bwr), cax=cax, ticks=[-2, -1, 0, 1, 2])
cb.ax.set_yticklabels(['-2', '-1', '0', '1', '2'], fontsize=5, color=DARK)
cb.ax.tick_params(length=1.5, width=0.3, pad=1, color='white')
cb.outline.set_visible(False)


# ---------- d, e, f
def volcano(rect, xlim, xticks, down, up, nosig, marked, gray, blue, red, labels, title, title_xy, counts, legend_x):
    ax = px_axes(*rect)
    ax.patch.set_alpha(0)
    ax.fill_betweenx(gray[0], gray[1], gray[2], facecolor='#a9a9a9', edgecolor='#a9a9a9', lw=1.5, zorder=1)
    ax.fill_betweenx(blue[0], blue[1], -0.03, facecolor='#1e90ff', edgecolor='#1e90ff', lw=1.2, zorder=2)
    ax.fill_betweenx(red[0], 0.03, red[1], facecolor='#ff0000', edgecolor='#ff0000', lw=1.2, zorder=2)
    dots = dict(s=13, linewidths=0, zorder=3, clip_on=False)
    nx, ny = np.array(nosig).T
    ax.scatter(nx, ny, c='#a9a9a9', **dots)
    dx, dy = np.array(down).T
    ax.scatter(dx, dy, c='#1e90ff', **dots)
    ux, uy = np.array(up).T
    ax.scatter(ux, uy, c='#ff0000', **dots)
    mx, my = np.array(marked).T
    ax.scatter(mx, my, s=13, facecolors='none', edgecolors='#333333', linewidths=0.3, zorder=4)
    for v in [-0.263, 0.263]:
        ax.plot([v, v], [0, 12.9], color='#222222', lw=0.7, ls=(0, (2.5, 1.5)), zorder=4)
    ax.axhline(1.3, color='#222222', lw=0.7, ls=(0, (2.5, 1.5)), zorder=4)
    for name, tx, ty in zip(*labels):
        ax.text(tx, ty, name, fontsize=6.9, color='#333333', ha='left', va='center', zorder=6, clip_on=False)
    ax.set_xlim(*xlim)
    ax.set_ylim(0, 13)
    ax.set_xticks(xticks)
    ax.set_yticks(range(14))
    ax.tick_params(labelsize=7.5, length=3.5, width=0.7, color=DARK, labelcolor=DARK, pad=1.5)
    for s in ax.spines.values():
        s.set_linewidth(0.6)
        s.set_color('#444444')
    ax.spines['bottom'].set_linewidth(0.9)
    ax.spines['left'].set_linewidth(0.9)
    ax.set_xlabel('Log2FC', fontsize=8, fontweight='bold', labelpad=5, color='#222222')
    ax.set_ylabel('-Log10(Pvalue)', fontsize=8, fontweight='bold', labelpad=2, color='#222222')
    canvas.text(title_xy[0], title_xy[1], title, fontsize=10, fontweight='bold', ha='center', va='center',
                color='#222222')
    handles = [Line2D([], [], ls='', marker='o', ms=7.2, mew=0, color=c) for c in ['#ff0000', '#a9a9a9', '#1e90ff']]
    texts = [f'up({counts[0]})', f'nosig({counts[1]})', f'down({counts[2]})']
    bbox = ((legend_x - rect[0]) / (rect[2] - rect[0]), (rect[3] - 2030) / (rect[3] - rect[1]))
    ax.legend(handles, texts, title='Significant', loc='upper left', bbox_to_anchor=bbox, frameon=False,
              prop=dict(size=6.6, weight='bold'), title_fontproperties=dict(size=7, weight='bold'),
              labelspacing=0.78, handlelength=1.1, handletextpad=0.3, borderaxespad=0, borderpad=0, alignment='left')
    return ax


ax = volcano((215, 1635.5, 1215, 2564.6), (-25, 15), range(-25, 16, 5), d_down, d_up, d_nosig, d_marked,
             (d_gray_y, d_gray_l, d_gray_r), (d_blue_y, d_blue_l), (d_red_y, d_red_r),
             (d_labels, d_label_x, d_label_y), 'CA-L', (777, 1572), ['866', '55,316', '798'], 1255)
ax.plot([-1.7, 3.55], [6.63, 7.05], color='#555555', lw=0.4, zorder=5)

ax = volcano((1616, 1628, 2617, 2557.6), (-25, 10), range(-25, 11, 5), e_down, e_up, e_nosig, e_marked,
             (e_gray_y, e_gray_l, e_gray_r), (e_blue_y, e_blue_l), (e_red_y, e_red_r),
             (e_labels, e_label_x, e_label_y), 'CA-M', (2179, 1565), ['1002', '55,071', '907'], 2656)
ax.plot([-.94, 3.3], [7.68, 8.0], color='#555555', lw=0.4, zorder=5)
ax.plot([.56, 1.03], [6.85, 6.64], color='#555555', lw=0.4, zorder=5)

ax = volcano((3011, 1628, 4011, 2557.6), (-30, 15), range(-30, 16, 5), f_down, f_up, f_nosig, f_marked,
             (f_gray_y, f_gray_l, f_gray_r), (f_blue_y, f_blue_l), (f_red_y, f_red_r),
             (f_labels, f_label_x, f_label_y), 'CA-H', (3573, 1565), ['694', '55,518', '768'], 4050)

fig.savefig('out.png', dpi=300)
